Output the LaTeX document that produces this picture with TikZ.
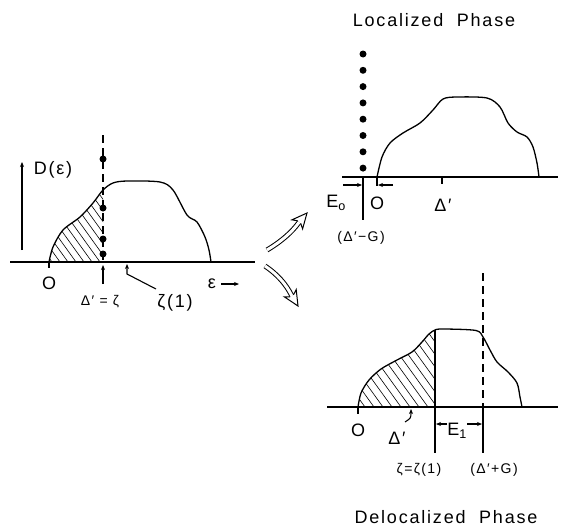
\documentclass[tikz,border=0pt]{standalone}
\usepackage{fontspec}
\setmainfont{Liberation Sans}[LetterSpace=10]
\usetikzlibrary{arrows.meta}
\tikzset{
  curve/.style={line width=1.3pt, line join=round},
  baseln/.style={line width=1.6pt},
  thin/.style={line width=1.1pt},
  hatchln/.style={line width=0.6pt},
  dotnode/.style={circle, fill, inner sep=0pt, minimum size=7pt},
  lbl/.style={font=\fontsize{18}{20}\selectfont, inner sep=0pt},
  slbl/.style={font=\fontsize{14}{16}\selectfont, inner sep=0pt},
  dashln/.style={dash pattern=on 8pt off 5pt, line width=1.1pt},
  smalltip/.style={-{Stealth[length=5pt,width=4pt]}},
  hollow/.style={double, double distance=3pt, line width=1pt}
}
\begin{document}
\begin{tikzpicture}[x=1pt,y=-1pt]
\useasboundingbox (0,0) rectangle (561,527);

% ================= LEFT PANEL =================
\begin{scope}
\clip (49,120) rectangle (103,262);
\clip plot[smooth] coordinates {(49,262) (53,247) (63,230) (80,217) (93,203) (103,190) (113,183) (127,181) (160,182) (173,190) (187,215) (197,222) (205,237) (209,250) (211,262)} -- cycle;
\foreach \a in {-30,-22,...,110} \draw[hatchln] (\a,170) -- ++(66,92);
\end{scope}
\draw[curve] plot[smooth] coordinates {(49,262) (53,247) (63,230) (80,217) (93,203) (103,190) (113,183) (127,181) (160,182) (173,190) (187,215) (197,222) (205,237) (209,250) (211,262)};
\draw[baseln] (10,262) -- (255,262);
\draw[thin, smalltip] (22,250) -- (22,162);
\node[lbl] (Dlab) at (53,170) {D(ε)};
\draw[thin] (49,262) -- (49,268);
\node[lbl] (O1) at (49,283) {O};
\draw[dashln] (103,135) -- (103,262);
\foreach \y [count=\i] in {159,208,239,254} \node[dotnode] (ld\i) at (103,\y) {};
\coordinate (zarrow) at (103,284);
\coordinate (zhit) at (103,265);
\draw[thin, smalltip] (zarrow) -- (zhit);
\node[slbl] (dz) at (100,302) {Δ′ = ζ};
\coordinate (z1a) at (156,289);
\coordinate (z1b) at (127,274);
\coordinate (z1c) at (127,264);
\draw[thin, smalltip] (z1a) -- (z1b) -- (z1c);
\node[lbl] (z1) at (175,303) {ζ(1)};
\node[lbl] (eps) at (212,284) {ε};
\coordinate (ea) at (221,284);
\coordinate (eb) at (239,284);
\draw[thin, smalltip] (ea) -- (eb);

% ================= HOLLOW ARROWS =================
% upper
\coordinate (ua) at (267,250);
\coordinate (ub) at (299.2,222.1);
\draw[hollow] (ua) .. controls (282,241) and (292,232) .. (ub);
\draw[line width=1pt, fill=white, line join=miter] (300.7,223.4) -- (302.6,228.9) -- (307,213) -- (291.9,219.85) -- (297.7,220.8);
% lower
\coordinate (la) at (265,266);
\coordinate (lb) at (291.8,295.8);
\draw[hollow] (la) .. controls (277,274) and (286,284) .. (lb);
\draw[line width=1pt, fill=white, line join=miter] (293.5,294.8) -- (296.2,289.6) -- (298,306) -- (284.3,296.8) -- (290.1,296.8);

% ================= TOP RIGHT (LOCALIZED) =================
\node[lbl] (loc) at (434,20) {Localized\ \ Phase};
\foreach \i in {0,...,7} \node[dotnode] (td\i) at (363,54+16.3*\i) {};
\draw[curve] plot[smooth] coordinates {(377,177) (382,157) (390,143) (403,133) (420,123) (433,110) (443,99) (457,97) (487,98) (500,107) (508,123) (517,132) (527,137) (533,147) (537,163) (539,177)};
\draw[baseln] (342,177) -- (558,177);
\draw[thin] (363,177) -- (363,220);
\draw[thin] (377,177) -- (377,186);
\draw[thin] (442,177) -- (442,184);
\coordinate (e0a) at (343,185);
\coordinate (e0b) at (362,185);
\coordinate (e0c) at (393,185);
\coordinate (e0d) at (378,185);
\draw[thin, smalltip] (e0a) -- (e0b);
\draw[thin, smalltip] (e0c) -- (e0d);
\node[lbl] (E0) at (336,203) {E\textsubscript{o}};
\node[lbl] (O2) at (377,203) {O};
\node[lbl] (dp) at (443,205) {Δ′};
\node[slbl] (dmg) at (361,238) {(Δ′−G)};

% ================= BOTTOM RIGHT (DELOCALIZED) =================
\begin{scope}
\clip (358,300) rectangle (435,407);
\clip plot[smooth] coordinates {(358,407) (361,393) (369,380) (381,369) (397,360) (412,352) (422,342) (429,334) (436,329.5) (446,329) (476,330.5) (483,337) (490,350) (497,362) (508,372) (517,383) (520,397) (522,407)} -- cycle;
\foreach \a in {250,259,...,440} \draw[hatchln] (\a,310) -- ++(70,97);
\end{scope}
\draw[curve] plot[smooth] coordinates {(358,407) (361,393) (369,380) (381,369) (397,360) (412,352) (422,342) (429,334) (436,329.5) (446,329) (476,330.5) (483,337) (490,350) (497,362) (508,372) (517,383) (520,397) (522,407)};
\draw[baseln] (327,407) -- (558,407);
\draw[thin] (435,330) -- (435,453);
\draw[dashln] (483,273) -- (483,407);
\draw[thin] (483,407) -- (483,453);
\draw[thin] (358,407) -- (358,414);
\node[lbl] (O3) at (358,430) {O};
\coordinate (e1a) at (447,424);
\coordinate (e1b) at (436,424);
\coordinate (e1c) at (467,424);
\coordinate (e1d) at (482,424);
\draw[thin, smalltip] (e1a) -- (e1b);
\draw[thin, smalltip] (e1c) -- (e1d);
\node[lbl] (E1) at (457,431) {E\textsubscript{1}};
\coordinate (dla) at (405,422);
\coordinate (dlb) at (411,409);
\draw[thin, smalltip] (dla) .. controls (411,418) .. (dlb);
\node[lbl] (dp2) at (397,438) {Δ′};
\node[slbl] (zz) at (419,470) {ζ=ζ(1)};
\node[slbl] (dpg) at (494,470) {(Δ′+G)};
\node[lbl] (deloc) at (446,517) {Delocalized\ \ Phase};
\end{tikzpicture}
\end{document}
